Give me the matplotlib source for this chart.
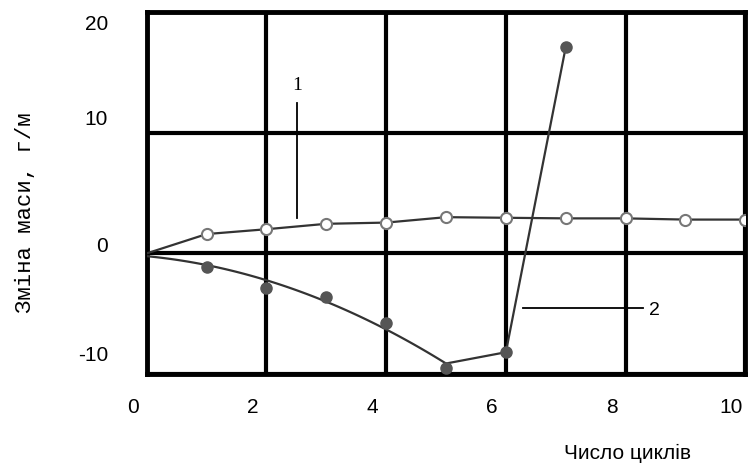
import matplotlib
matplotlib.use("Agg")
import matplotlib.pyplot as plt
import matplotlib.transforms as mtransforms
import numpy as np

plt.rcParams["axes.unicode_minus"] = False

# дані
cycles_1 = [0, 1, 2, 3, 4, 5, 6, 7, 8, 9, 10]
mass_1 = [0, 1.6, 2.0, 2.45, 2.55, 3.0, 2.95, 2.9, 2.9, 2.8, 2.8]

cycles_2 = [0, 1, 2, 3, 4, 5, 6, 7]
mass_2 = [0, -1.1, -2.9, -3.6, -5.8, -9.5, -8.2, 17.1]

x_ticks = [0, 2, 4, 6, 8, 10]
y_ticks = [-10, 0, 10, 20]

fig = plt.figure(figsize=(7.49, 4.68), dpi=100)
ax = fig.add_axes([0.196, 0.201, 0.799, 0.773])

# крива 1 (світлі маркери)
ax.plot(cycles_1, mass_1, color="#333333", lw=1.6, zorder=3)
ax.plot(cycles_1[1:], mass_1[1:], ls="none", marker="o", ms=8,
        mfc="white", mec="#777777", mew=1.5, zorder=4)

# крива 2: згладжена ділянка до 5 циклів, далі ламана
xs = np.array(cycles_2[:6])
ys = np.array(mass_2[:6])
coef = np.polyfit(xs, ys, 2)
xf = np.linspace(0, 5, 100)
yf = np.polyval(coef, xf)
ax.plot(xf, yf, color="#333333", lw=1.6, zorder=3)
ax.plot([5, 6, 7], [yf[-1], mass_2[6], mass_2[7]], color="#333333", lw=1.6, zorder=3)
ax.plot(cycles_2[1:], mass_2[1:], ls="none", marker="o", ms=8,
        mfc="#555555", mec="#555555", zorder=4)

# позначки кривих
ax.plot([2.51, 2.51], [12.5, 2.95], color="black", lw=1.3)
ax.text(2.51, 13.9, "1", ha="center", va="center", fontsize=14,
        family="Liberation Serif")
ax.plot([6.29, 8.29], [-4.5, -4.5], color="black", lw=1.3)
ax.text(8.49, -4.75, "2", ha="center", va="center", fontsize=14,
        family="Liberation Sans")

ax.set_xlim(0, 10)
ax.set_ylim(-10, 20)
ax.set_xticks(x_ticks)
ax.set_yticks(y_ticks)
ax.tick_params(length=0, labelsize=15, pad=17)
ax.tick_params(axis="y", pad=28)

# підписи на скані трохи зсунуті відносно сітки
shift_x = mtransforms.ScaledTranslation(-14 / 100, 0, fig.dpi_scale_trans)
for lab in ax.get_xticklabels():
    lab.set_family("Liberation Sans")
    lab.set_transform(lab.get_transform() + shift_x)
y_shift_px = [20, 9, 15, -10]
for lab, dy in zip(ax.get_yticklabels(), y_shift_px):
    lab.set_family("Liberation Sans")
    lab.set_transform(lab.get_transform()
                      + mtransforms.ScaledTranslation(0, dy / 100, fig.dpi_scale_trans))

ax.grid(True, color="black", lw=3)
ax.set_axisbelow(True)
for s in ax.spines.values():
    s.set_linewidth(3.5)
    s.set_color("black")

fig.text(0.034, 0.545, "Зміна маси, г/м", rotation=90, ha="center", va="center",
         fontsize=16, family="Liberation Mono")
fig.text(0.838, 0.032, "Число циклів", ha="center", va="center",
         fontsize=15, family="Liberation Sans")

fig.savefig("out.png", dpi=100)
